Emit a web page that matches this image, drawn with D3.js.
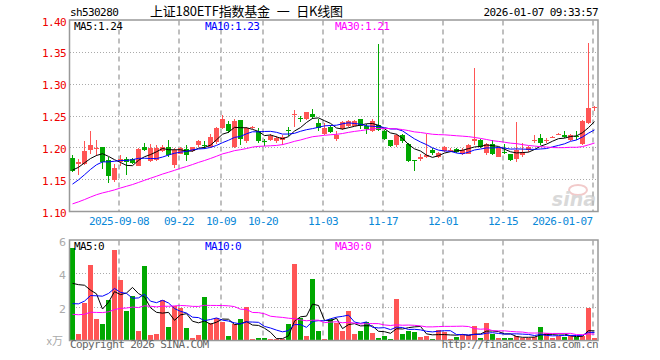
<!DOCTYPE html>
<html><head><meta charset="utf-8">
<script src="https://cdn.jsdelivr.net/npm/d3@7"></script>
<style>
html,body{margin:0;padding:0;background:#fff;}
svg{display:block;}
</style></head>
<body><svg id="c" width="660" height="360"></svg>
<script>
// ---------- data ----------
const dates = [
"2025-08-27","2025-08-28","2025-08-29","2025-09-01","2025-09-02","2025-09-03","2025-09-04","2025-09-05",
"2025-09-08","2025-09-09","2025-09-10","2025-09-11","2025-09-12","2025-09-15","2025-09-16","2025-09-17","2025-09-18","2025-09-19",
"2025-09-22","2025-09-23","2025-09-24","2025-09-25","2025-09-26","2025-09-29","2025-09-30",
"2025-10-09","2025-10-10","2025-10-13","2025-10-14","2025-10-15","2025-10-16","2025-10-17",
"2025-10-20","2025-10-21","2025-10-22","2025-10-23","2025-10-24","2025-10-27","2025-10-28","2025-10-29","2025-10-30","2025-10-31",
"2025-11-03","2025-11-04","2025-11-05","2025-11-06","2025-11-07","2025-11-10","2025-11-11","2025-11-12","2025-11-13","2025-11-14",
"2025-11-17","2025-11-18","2025-11-19","2025-11-20","2025-11-21","2025-11-24","2025-11-25","2025-11-26","2025-11-27","2025-11-28",
"2025-12-01","2025-12-02","2025-12-03","2025-12-04","2025-12-05","2025-12-08","2025-12-09","2025-12-10","2025-12-11","2025-12-12",
"2025-12-15","2025-12-16","2025-12-17","2025-12-18","2025-12-19","2025-12-22","2025-12-23","2025-12-24","2025-12-25","2025-12-26",
"2025-12-29","2025-12-30","2025-12-31","2026-01-05","2026-01-06","2026-01-07"];

const open = [1.184,1.175,1.175,1.196,1.199,1.201,1.181,1.149,1.177,1.182,1.182,1.172,1.202,1.179,1.181,1.195,1.201,1.173,
1.191,1.198,1.195,1.205,1.204,1.201,1.209,1.231,1.238,1.202,1.244,1.210,1.231,1.227,1.210,1.212,1.211,1.213,1.228,1.252,1.247,1.245,1.253,1.239,
1.222,1.233,1.214,1.229,1.234,1.235,1.245,1.235,1.227,1.236,1.227,1.212,1.205,1.220,1.206,1.181,1.182,1.185,1.197,1.186,
1.195,1.197,1.198,1.190,1.191,1.210,1.213,1.192,1.206,1.186,1.193,1.190,1.182,1.189,1.196,1.212,1.216,1.212,1.216,1.221,1.220,1.212,1.219,1.206,1.239,1.263];
const high = [1.189,1.183,1.210,1.227,1.212,1.202,1.185,1.175,1.189,1.186,1.184,1.199,1.208,1.206,1.204,1.204,1.213,1.199,
1.201,1.204,1.202,1.213,1.211,1.222,1.232,1.251,1.242,1.245,1.244,1.232,1.234,1.231,1.214,1.221,1.218,1.220,1.232,1.259,1.250,1.257,1.261,1.246,
1.239,1.236,1.226,1.242,1.244,1.243,1.246,1.237,1.245,1.363,1.228,1.213,1.221,1.222,1.207,1.181,1.190,1.221,1.199,1.193,
1.203,1.199,1.200,1.199,1.206,1.325,1.214,1.207,1.212,1.201,1.206,1.191,1.241,1.207,1.203,1.220,1.222,1.216,1.219,1.223,1.227,1.222,1.227,1.243,1.364,1.265];
const low = [1.162,1.157,1.173,1.190,1.187,1.166,1.144,1.146,1.172,1.158,1.174,1.171,1.195,1.177,1.179,1.193,1.186,1.168,
1.190,1.179,1.194,1.201,1.198,1.199,1.206,1.229,1.223,1.199,1.205,1.207,1.229,1.207,1.203,1.211,1.207,1.205,1.219,1.233,1.241,1.243,1.246,1.227,
1.220,1.224,1.211,1.228,1.233,1.234,1.230,1.221,1.225,1.226,1.212,1.201,1.201,1.208,1.177,1.164,1.180,1.184,1.189,1.184,
1.194,1.194,1.192,1.188,1.190,1.205,1.199,1.188,1.189,1.185,1.190,1.180,1.177,1.185,1.194,1.207,1.205,1.208,1.215,1.220,1.215,1.211,1.213,1.204,1.238,1.258];
const close = [1.164,1.177,1.195,1.204,1.200,1.178,1.156,1.169,1.182,1.177,1.176,1.198,1.197,1.199,1.199,1.202,1.188,1.197,
1.199,1.189,1.201,1.211,1.203,1.217,1.231,1.245,1.226,1.242,1.214,1.231,1.232,1.210,1.209,1.219,1.216,1.217,1.227,1.253,1.246,1.256,1.249,1.231,
1.231,1.225,1.220,1.240,1.242,1.242,1.235,1.230,1.242,1.228,1.214,1.203,1.220,1.210,1.179,1.180,1.186,1.188,1.192,1.192,
1.201,1.197,1.194,1.197,1.205,1.214,1.201,1.206,1.191,1.199,1.192,1.181,1.197,1.194,1.202,1.213,1.207,1.213,1.217,1.222,1.217,1.220,1.218,1.242,1.262,1.264];
// volume, in units of 10^4 (x万)
const volume = [5.56,0.40,2.23,4.52,1.29,1.00,2.43,5.42,3.63,1.77,2.67,0.58,4.46,0.34,0.40,2.43,0.82,2.07,
1.97,0.76,0.16,0.34,2.61,1.04,1.33,1.12,0.28,1.00,1.29,1.99,0.08,0.16,0.16,0.08,0.08,0.08,1.00,4.58,1.37,0.28,3.69,0.58,
0.10,1.27,1.04,0.58,1.77,0.40,0.58,1.12,0.48,0.18,0.28,0.10,2.49,0.40,0.58,0.52,0.22,0.28,0.10,0.64,
0.54,0.10,0.22,0.34,0.34,0.88,0.18,1.06,0.40,0.16,0.18,0.18,0.28,0.16,0.16,0.24,0.82,0.46,0.16,0.28,0.22,0.28,0.22,0.28,1.95,0.16];
// estimated sessions before the window (only feed the moving averages at the left edge)
const priorCloses = [1.082,1.088,1.085,1.090,1.093,1.089,1.094,1.092,1.096,
1.095,1.099,1.097,1.101,1.104,1.100,1.103,1.106,1.104,1.105,1.107,
1.110,1.115,1.120,1.127,1.133,1.155,1.160,1.170,1.176];
const priorVolumes = [1.1,1.4,0.9,1.6,1.3,1.0,1.5,1.35,1.2,0.95,1.45,1.3,1.1,1.55,1.2,1.0,1.4,1.25,1.15,1.3,
0.5,0.6,1.2,1.4,1.25,0.8,2.4,6.0,2.39];

const priceTicks = [1.40,1.35,1.30,1.25,1.20,1.15,1.10];
const volTicks = [6,4,2];
const tickDates = ["2025-09-08","2025-09-22","2025-10-09","2025-10-20","2025-11-03","2025-11-17","2025-12-01","2025-12-15","2026-01-07"];
const tickLabels = ["2025-09-08","09-22","10-09","10-20","11-03","11-17","12-01","12-15","2026-01-07"];
const maPeriods = [5,10,30];
const maColors = ["#000","#00f","#f0f"];
const maLabels = ["MA5:1.24","MA10:1.23","MA30:1.21"];
const volMaLabels = ["MA5:0","MA10:0","MA30:0"];
const code = "sh530280";
const title = "上证180ETF指数基金 一 日K线图";
const stamp = "2026-01-07 09:33:57";

// ---------- layout ----------
const L = 70, R = 598;
const pTop = 20.5, pBot = 211.5, vTop = 240.5, vBot = 340.5;
const n = dates.length;
const mono = "'DejaVu Sans Mono','Liberation Mono',monospace";
const UP = "#ff5555", DN = "#00a800";

const svg = d3.select("#c");
const x = d3.scaleLinear().domain([0, n]).range([L, R]);
const y = d3.scaleLinear().domain([1.10, 1.40]).range([pBot, pTop]);
const yv = d3.scaleLinear().domain([0, 6]).range([vBot, vTop]);
const cx = i => x(i) + 2.5;
const crisp = v => Math.round(v - 0.5) + 0.5;

function movingAvg(series, prior, p) {
  const all = prior.concat(series);
  return series.map((_, i) => {
    const j = i + prior.length;
    return d3.mean(all.slice(j - p + 1, j + 1));
  });
}

// ---------- grid ----------
const grid = svg.append("g");
grid.selectAll("line.hp").data(priceTicks.slice(1, -1)).join("line")
  .attr("x1", L).attr("x2", R).attr("y1", d => crisp(y(d))).attr("y2", d => crisp(y(d)))
  .attr("stroke", "#aaa").attr("stroke-dasharray", "1,2");
grid.selectAll("line.hv").data(volTicks.slice(1)).join("line")
  .attr("x1", L).attr("x2", R).attr("y1", d => crisp(yv(d))).attr("y2", d => crisp(yv(d)))
  .attr("stroke", "#aaa").attr("stroke-dasharray", "1,2");
const tickIdx = tickDates.map(d => dates.indexOf(d));
[[pTop, pBot], [vTop, vBot]].forEach(([a, b]) => {
  grid.append("g").selectAll("line").data(tickIdx).join("line")
    .attr("x1", i => crisp(x(i)) + 0.5).attr("x2", i => crisp(x(i)) + 0.5)
    .attr("y1", a).attr("y2", b)
    .attr("stroke", "#aaa").attr("stroke-width", 1.5).attr("stroke-dasharray", "5,4");
});

// watermark
const wm = svg.append("g").attr("opacity", 0.55);
wm.append("ellipse").attr("cx", 578).attr("cy", 190).attr("rx", 9).attr("ry", 5)
  .attr("fill", "none").attr("stroke", "#e8a0a0").attr("stroke-width", 2);
wm.append("text").attr("x", 596).attr("y", 206).attr("text-anchor", "end")
  .attr("font-family", "'DejaVu Sans',sans-serif").attr("font-style", "italic").attr("font-weight", "bold")
  .attr("font-size", 19).attr("fill", "#bbb").text("sina");

// ---------- candles ----------
const cg = svg.append("g").attr("shape-rendering", "crispEdges");
const idx = d3.range(n);
const col = i => close[i] >= open[i] ? UP : DN;
cg.selectAll("line.w").data(idx).join("line")
  .attr("x1", i => cx(i)).attr("x2", i => cx(i))
  .attr("y1", i => y(high[i])).attr("y2", i => y(low[i]))
  .attr("stroke", col);
cg.selectAll("rect.b").data(idx).join("rect")
  .attr("x", i => x(i)).attr("width", 5)
  .attr("y", i => y(Math.max(open[i], close[i])))
  .attr("height", i => Math.max(1, Math.abs(y(open[i]) - y(close[i]))))
  .attr("fill", col);

maPeriods.forEach((p, k) => {
  const m = movingAvg(close, priorCloses, p);
  svg.append("path").datum(m)
    .attr("d", d3.line().x((d, i) => cx(i)).y(d => y(d)))
    .attr("fill", "none").attr("stroke", maColors[k]).attr("stroke-width", 1);
});

// ---------- volume ----------
const vg = svg.append("g").attr("shape-rendering", "crispEdges");
vg.selectAll("rect").data(idx).join("rect")
  .attr("x", i => x(i)).attr("width", 5)
  .attr("y", i => yv(volume[i])).attr("height", i => yv(0) - yv(volume[i]))
  .attr("fill", col);
maPeriods.forEach((p, k) => {
  const m = movingAvg(volume, priorVolumes, p);
  svg.append("path").datum(m)
    .attr("d", d3.line().x((d, i) => cx(i)).y(d => yv(d)))
    .attr("fill", "none").attr("stroke", maColors[k]).attr("stroke-width", 1);
});

// ---------- frames ----------
[[pTop, pBot], [vTop, vBot]].forEach(([a, b]) => {
  svg.append("rect").attr("x", L - 0.5).attr("y", a - 0.5).attr("width", R - L + 0.5).attr("height", b - a + 0.5)
    .attr("fill", "none").attr("stroke", "#999").attr("stroke-width", 1.5);
});

// ---------- axes ----------
const pAxis = svg.append("g").attr("transform", `translate(${L - 4},0)`)
  .call(d3.axisLeft(y).tickValues(priceTicks).tickFormat(d3.format(".2f")).tickSize(0).tickPadding(0));
pAxis.select(".domain").remove();
pAxis.selectAll("text").attr("fill", "#e00").attr("font-family", mono).attr("font-size", 11)
  .attr("letter-spacing", "-0.6").attr("dy", "0.42em");

const vAxis = svg.append("g").attr("transform", `translate(${L - 4},0)`)
  .call(d3.axisLeft(yv).tickValues(volTicks).tickFormat(d3.format("d")).tickSize(0).tickPadding(0));
vAxis.select(".domain").remove();
vAxis.selectAll("text").attr("fill", "#aaa").attr("font-family", "'DejaVu Sans',sans-serif").attr("font-size", 11)
  .attr("dy", "0.45em");
svg.append("text").attr("x", 63).attr("y", 345).attr("text-anchor", "end")
  .attr("font-family", "'Noto Sans CJK SC',sans-serif").attr("font-size", 11).attr("fill", "#aaa").text("x万");

svg.append("g").selectAll("text").data(tickIdx).join("text")
  .attr("x", (i, k) => k === tickIdx.length - 1 ? crisp(x(i)) : crisp(x(i)) + 0.5)
  .attr("y", 225)
  .attr("text-anchor", (i, k) => k === tickIdx.length - 1 ? "end" : "middle")
  .attr("font-family", mono).attr("font-size", 11).attr("letter-spacing", "-0.6")
  .attr("fill", "#0a88d8").text((i, k) => tickLabels[k]);

// ---------- header / legends ----------
const T = (tx, ty, s, opts = {}) => svg.append("text").attr("x", tx).attr("y", ty)
  .attr("font-family", opts.ff || mono).attr("font-size", opts.fs || 11)
  .attr("letter-spacing", opts.ls === undefined ? "-0.6" : opts.ls)
  .attr("text-anchor", opts.anchor || "start").attr("fill", opts.fill || "#000").text(s);

T(70, 16, code);
T(150, 16, title, {ff: "'Noto Sans CJK SC',sans-serif", fs: 13, ls: "0"})
  .attr("word-spacing", "4").attr("textLength", 193).attr("lengthAdjust", "spacing");
T(598, 16, stamp, {anchor: "end"});
const legX = [74, 205, 335];
maLabels.forEach((s, k) => T(legX[k], 30, s, {fill: maColors[k]}));
volMaLabels.forEach((s, k) => T(legX[k], 250, s, {fill: maColors[k]}));
T(70, 348, "Copyright 2026 SINA.COM", {fill: "#666"});
T(598, 348, "http://finance.sina.com.cn", {fill: "#666", anchor: "end"});
</script>
</body></html>
